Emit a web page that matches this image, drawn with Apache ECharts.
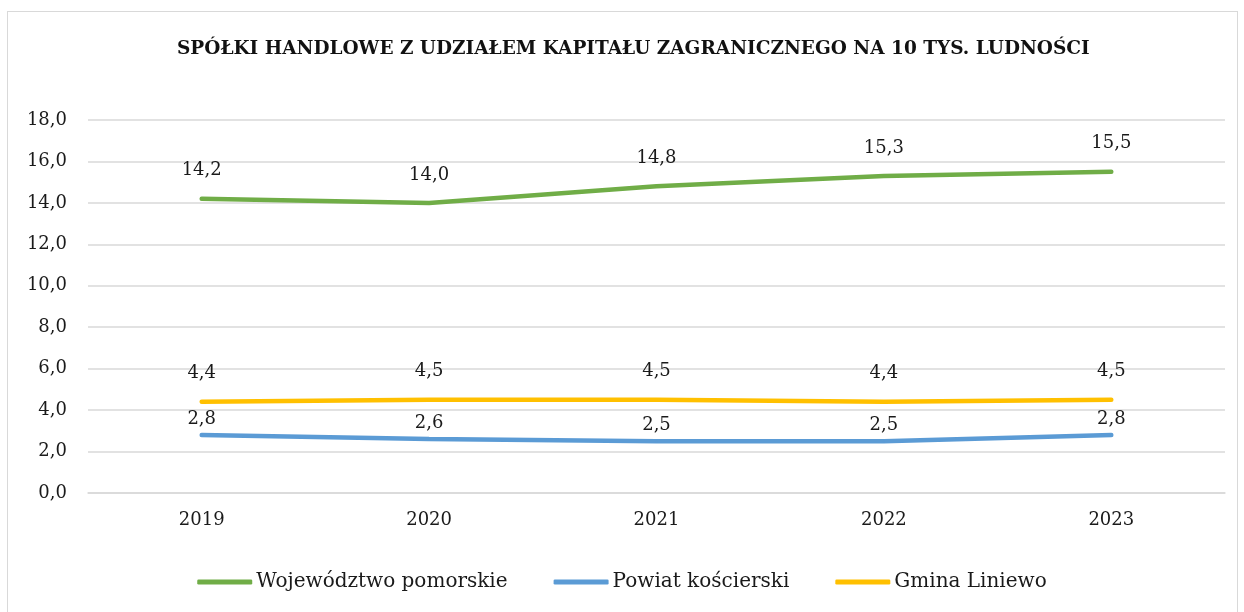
<!DOCTYPE html>
<html>
<head>
<meta charset="utf-8">
<script src="https://cdn.jsdelivr.net/npm/echarts@6/dist/echarts.min.js"></script>
<style>
html, body { margin: 0; padding: 0; background: #fff; }
#frame { position: absolute; left: 7px; top: 11px; width: 1231px; height: 610px; border: 1px solid #d9d9d9; box-sizing: border-box; }
#chart { position: absolute; left: 0; top: 0; width: 1244px; height: 612px; }
</style>
</head>
<body>
<div id="frame"></div>
<div id="chart"></div>
<script>
var years = ['2019', '2020', '2021', '2022', '2023'];
var wojewodztwo = [14.2, 14.0, 14.8, 15.3, 15.5];
var powiat = [2.8, 2.6, 2.5, 2.5, 2.8];
var gmina = [4.4, 4.5, 4.5, 4.4, 4.5];
var seriesNames = ['Województwo pomorskie', 'Powiat kościerski', 'Gmina Liniewo'];

var font = '"DejaVu Serif", "Liberation Serif", serif';
var chart = echarts.init(document.getElementById('chart'));

function fmt(v) { return v.toFixed(1).replace('.', ','); }

function lineSeries(name, data, color, dist) {
	return {
		name: name,
		type: 'line',
		data: data,
		symbol: 'circle',
		symbolSize: 2,
		showSymbol: true,
		lineStyle: { color: color, width: 4.5, cap: 'round' },
		itemStyle: { color: color },
		label: {
			show: true,
			position: 'top',
			distance: dist,
			fontFamily: font,
			fontSize: 18,
			color: '#1a1a1a',
			formatter: function (p) { return fmt(p.value); }
		}
	};
}

var option = {
	animation: false,
	title: {
		text: 'SPÓŁKI HANDLOWE Z UDZIAŁEM KAPITAŁU ZAGRANICZNEGO NA 10 TYS. LUDNOŚCI',
		left: 172,
		top: 35,
		textStyle: { fontFamily: font, fontWeight: 'bold', fontSize: 18.5, color: '#111' }
	},
	grid: { left: 88, right: 19, top: 120, bottom: 119 },
	legend: {
		bottom: 15,
		left: 'center',
		itemWidth: 55,
		itemHeight: 5,
		itemGap: 46,
		textStyle: { fontFamily: font, fontSize: 20, color: '#1a1a1a', padding: [0, 0, 0, -1] },
		data: seriesNames.map(function (n) { return { name: n, icon: 'roundRect' }; })
	},
	xAxis: {
		type: 'category',
		data: years,
		boundaryGap: true,
		axisLine: { lineStyle: { color: '#d9d9d9', width: 1.5 } },
		axisTick: { show: false },
		axisLabel: { margin: 18, fontFamily: font, fontSize: 18, color: '#1a1a1a' }
	},
	yAxis: {
		type: 'value',
		min: 0,
		max: 18,
		interval: 2,
		axisLine: { show: false },
		axisTick: { show: false },
		splitLine: { lineStyle: { color: '#d9d9d9', width: 1.5 } },
		axisLabel: { margin: 21, fontFamily: font, fontSize: 18, color: '#1a1a1a', formatter: function (v) { return fmt(v); } }
	},
	series: [
		lineSeries(seriesNames[0], wojewodztwo, '#70ad47', 18),
		lineSeries(seriesNames[1], powiat, '#5b9bd5', 6),
		lineSeries(seriesNames[2], gmina, '#ffc000', 18)
	]
};

chart.setOption(option);
</script>
</body>
</html>
